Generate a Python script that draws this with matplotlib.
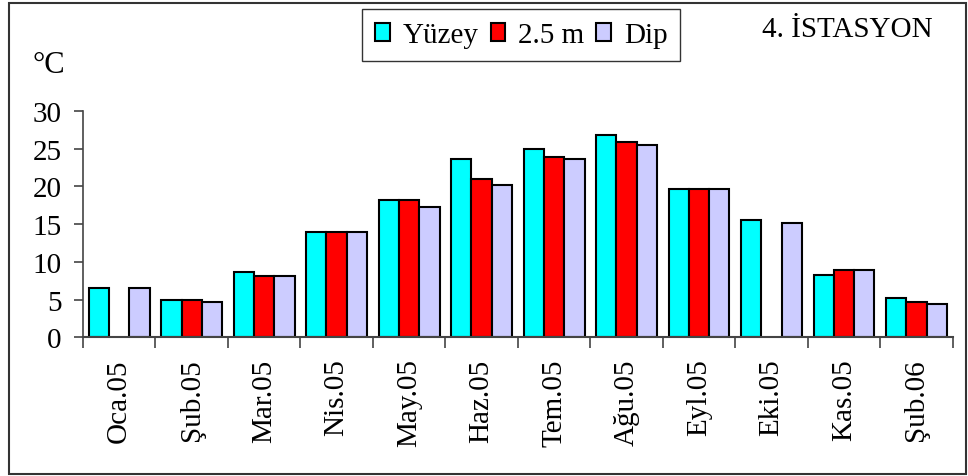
import numpy as np
import matplotlib
matplotlib.use("Agg")
import matplotlib.pyplot as plt
from matplotlib.patches import Rectangle

plt.rcParams['font.family'] = ['Liberation Serif', 'DejaVu Serif']

months = ['Oca.05', 'Şub.05', 'Mar.05', 'Nis.05', 'May.05', 'Haz.05',
          'Tem.05', 'Ağu.05', 'Eyl.05', 'Eki.05', 'Kas.05', 'Şub.06']
yuzey = [6.5, 5.0, 8.7, 13.9, 18.2, 23.6, 25.0, 26.8, 19.7, 15.5, 8.3, 5.2]
orta = [np.nan, 5.0, 8.1, 13.9, 18.2, 21.0, 23.9, 25.8, 19.7, np.nan, 8.9, 4.7]
dip = [6.5, 4.7, 8.1, 13.9, 17.3, 20.2, 23.6, 25.5, 19.7, 15.2, 8.9, 4.4]

FS = 21
AXC = '#444444'
fig = plt.figure(figsize=(9.68, 4.77), dpi=100)
ax = fig.add_axes([0.0857, 0.2904, 0.8985, 0.4754])

x = np.arange(len(months))
w = 0.28
kw = dict(width=w, edgecolor='black', linewidth=1.5)
b1 = ax.bar(x - w, yuzey, color='#00FFFF', label='Yüzey', **kw)
b2 = ax.bar(x, orta, color='#FF0000', label='2.5 m', **kw)
b3 = ax.bar(x + w, dip, color='#CCCCFF', label='Dip', **kw)

ax.set_xlim(-0.5, len(months) - 0.5)
ax.set_ylim(0, 30)
ax.set_yticks(range(0, 31, 5))
ax.tick_params(axis='y', direction='out', length=6.5, width=1.2, pad=9,
               labelsize=FS, color=AXC)

# month labels at the centres, tick marks on the group boundaries
ax.set_xticks(x)
ax.set_xticklabels(months, rotation=90, fontsize=FS)
ax.tick_params(axis='x', which='major', length=0, pad=15)
ax.set_xticks(np.arange(len(months) + 1) - 0.5, minor=True)
ax.tick_params(axis='x', which='minor', direction='out', length=8, width=1.2,
               color=AXC)

for s in ['top', 'right']:
    ax.spines[s].set_visible(False)
ax.spines['left'].set_linewidth(1.2)
ax.spines['left'].set_color(AXC)
ax.spines['bottom'].set_linewidth(1.5)
ax.spines['bottom'].set_color(AXC)

fig.text(33 / 968, 1 - 73 / 477, '°C', fontsize=FS + 1, va='baseline', ha='left')
fig.text(762 / 968, 1 - 37 / 477, '4. İSTASYON', fontsize=FS, va='baseline', ha='left')

leg = fig.legend(handles=[b1, b2, b3], loc='upper left',
                 bbox_to_anchor=(362 / 968, 1 - 10 / 477), ncol=3, fontsize=FS,
                 frameon=True, fancybox=False, handlelength=0.5, handleheight=0.6,
                 handletextpad=0.45, columnspacing=0.4, borderpad=0.45,
                 borderaxespad=0)
leg.get_frame().set_edgecolor('black')
leg.get_frame().set_linewidth(1.0)

# outer frame around the whole chart
fig.patches.append(Rectangle((9 / 968, 2 / 477), 957 / 968, 471 / 477,
                             transform=fig.transFigure, fill=False,
                             edgecolor='#333333', linewidth=1.5))

fig.savefig('out.png', dpi=100)
